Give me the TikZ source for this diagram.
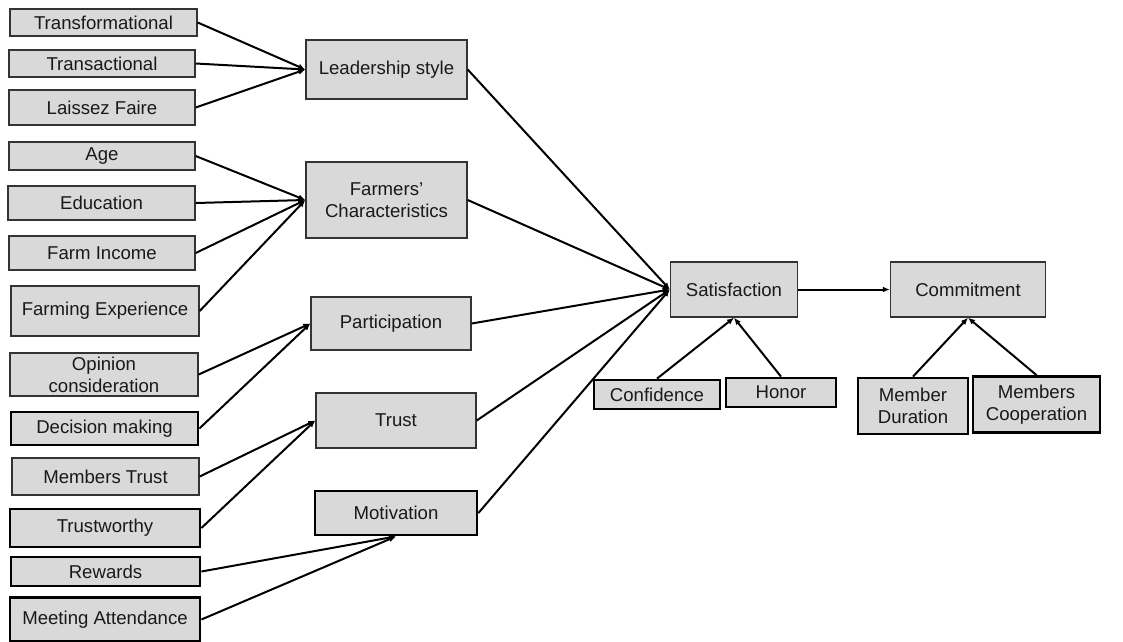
\documentclass[tikz,border=0pt]{standalone}
\usepackage{fontspec}
\setmainfont{Liberation Sans}
\usetikzlibrary{arrows.meta,positioning}

\begin{document}
\begin{tikzpicture}[x=1pt, y=-1pt,
  box/.style={draw=black!80, fill=gray!30, line width=1.4pt, inner sep=0pt,
    align=center, text=black!90, font=\fontsize{18.6}{22}\selectfont},
  heavy/.style={box, draw=black, line width=2.8pt},
  link/.style={line width=2pt, -{Latex[length=7pt,width=6pt]}}]
\useasboundingbox (0,0) rectangle (1123,641);
% leadership inputs
\node[box, minimum width=187, minimum height=27] (tf) at (103.5,22.5) {Transformational};
\node[box, minimum width=186, minimum height=27] (ta) at (102,63.5) {Transactional};
\node[box, minimum width=186, minimum height=35] (lf) at (102,107.5) {Laissez Faire};
% farmer inputs
\node[box, minimum width=186, minimum height=28] (age) at (102,156) {Age};
\node[box, minimum width=187, minimum height=34] (edu) at (101.5,203) {Education};
\node[box, minimum width=186, minimum height=34] (inc) at (102,253) {Farm Income};
\node[box, minimum width=188, minimum height=50] (exp) at (105,311) {Farming Experience};
% participation inputs
\node[box, minimum width=188, minimum height=43] (op) at (104,374.5) {Opinion\\consideration};
\node[heavy, minimum width=187, minimum height=33] (dm) at (104.5,428.5) {Decision making};
% trust inputs
\node[box, minimum width=187, minimum height=37] (mt) at (105.5,476.5) {Members Trust};
\node[heavy, minimum width=190, minimum height=38] (tw) at (105,528) {Trustworthy};
% motivation inputs
\node[heavy, minimum width=189, minimum height=29] (rw) at (105.5,571.5) {Rewards};
\node[heavy, minimum width=190, minimum height=44] (ma) at (105,619.5) {Meeting Attendance};
% middle column
\node[box, minimum width=161, minimum height=59] (ls) at (386.5,69.5) {Leadership style};
\node[box, minimum width=161, minimum height=76] (fc) at (386.5,200) {Farmers'\\Characteristics};
\node[box, minimum width=160, minimum height=53] (par) at (391,323.5) {Participation};
\node[box, minimum width=160, minimum height=55] (tr) at (396,420.5) {Trust};
\node[heavy, minimum width=162, minimum height=44] (mot) at (396,513) {Motivation};
% outcomes
\node[box, minimum width=127, minimum height=55] (sat) at (734,289.5) {Satisfaction};
\node[box, minimum width=155, minimum height=55] (com) at (968,289.5) {Commitment};
\node[heavy, minimum width=126, minimum height=29] (conf) at (657,394.5) {Confidence};
\node[heavy, minimum width=110, minimum height=29] (hon) at (781,392.5) {Honor};
\node[heavy, minimum width=110, minimum height=56] (dur) at (913,406) {Member\\Duration};
\node[heavy, minimum width=127, minimum height=56] (coop) at (1036.5,404.5) {Members\\Cooperation};
% arrows into the middle column
\foreach \a in {tf,ta,lf} \draw[link] (\a.east) -- (ls.west);
\foreach \a in {age,edu,inc,exp} \draw[link] (\a.east) -- (fc.west);
\foreach \a in {op,dm} \draw[link] (\a.east) -- (par.west);
\foreach \a in {mt,tw} \draw[link] (\a.east) -- (tr.west);
\foreach \a in {rw,ma} \draw[link] (\a.east) -- (mot.south);
% arrows into satisfaction
\foreach \a in {ls,fc,par,tr,mot} \draw[link] (\a.east) -- (sat.west);
\draw[link] (sat.east) -- (com.west);
\foreach \a in {conf,hon} \draw[link] (\a.north) -- (sat.south);
\foreach \a in {dur,coop} \draw[link] (\a.north) -- (com.south);
\end{tikzpicture}
\end{document}
